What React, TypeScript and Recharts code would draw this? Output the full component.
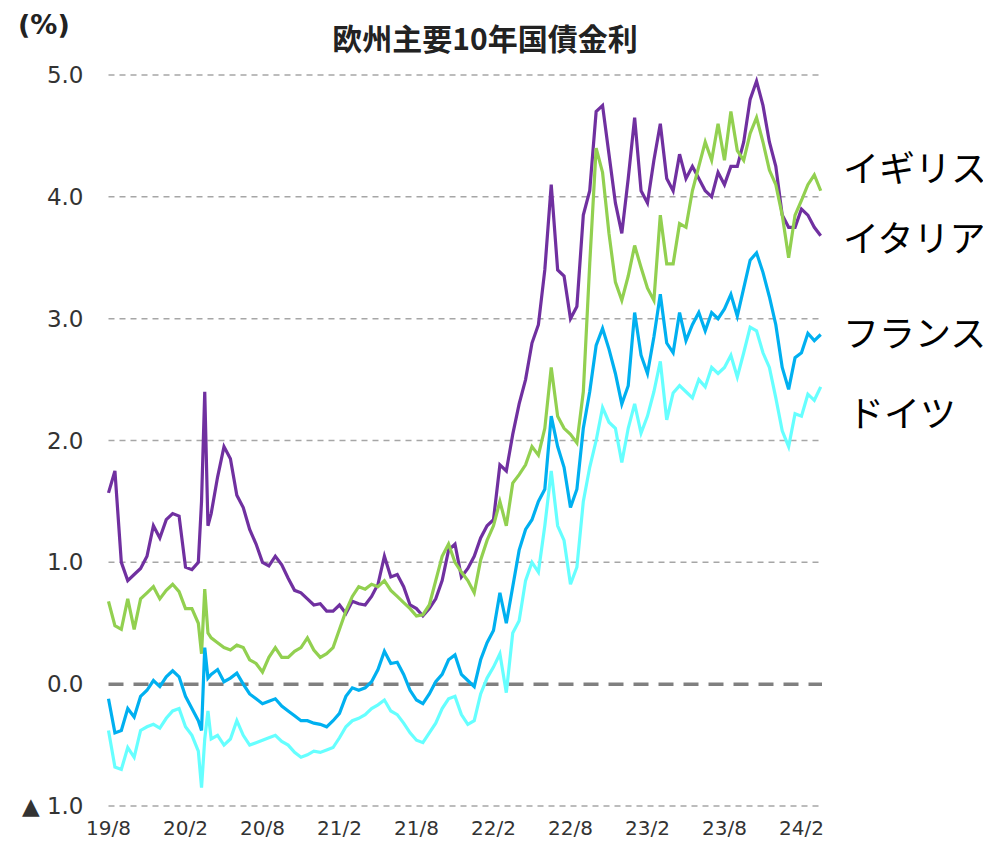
import React from "react";
import { LineChart, Line, XAxis, YAxis, ReferenceLine } from "recharts";

// x positions in months since 2019/8
const months = [
  0, 0.5, 1, 1.5, 2, 2.5, 3, 3.5, 4, 4.5, 5, 5.5,
  6, 6.5, 7, 7.25, 7.5, 7.75, 8, 8.5, 9, 9.5, 10, 10.5, 11, 11.5,
  12, 12.5, 13, 13.5, 14, 14.5, 15, 15.5, 16, 16.5, 17, 17.5,
  18, 18.5, 19, 19.5, 20, 20.5, 21, 21.5, 22, 22.5, 23, 23.5,
  24, 24.5, 25, 25.5, 26, 26.5, 27, 27.5, 28, 28.5, 29, 29.5,
  30, 30.5, 31, 31.5, 32, 32.5, 33, 33.5, 34, 34.5, 35, 35.5,
  36, 36.5, 37, 37.5, 38, 38.5, 39, 39.5, 40, 40.5, 41, 41.5,
  42, 42.5, 43, 43.5, 44, 44.5, 45, 45.5, 46, 46.5, 47, 47.5,
  48, 48.5, 49, 49.5, 50, 50.5, 51, 51.5, 52, 52.5, 53, 53.5,
  54, 54.5, 55, 55.5,
];

const italy = [
  1.57, 1.75, 1.0, 0.85, 0.9, 0.95, 1.05, 1.3, 1.2, 1.35, 1.4, 1.38,
  0.96, 0.94, 1.0, 1.5, 2.4, 1.3, 1.4, 1.7, 1.95, 1.85, 1.55, 1.45, 1.27, 1.15,
  1.0, 0.97, 1.05, 0.98, 0.87, 0.77, 0.75, 0.7, 0.65, 0.66, 0.6, 0.6,
  0.65, 0.58, 0.68, 0.66, 0.65, 0.72, 0.82, 1.05, 0.88, 0.9, 0.8, 0.65,
  0.62, 0.56, 0.62, 0.7, 0.85, 1.1, 1.15, 0.88, 0.95, 1.05, 1.2, 1.3,
  1.35, 1.8, 1.75, 2.05, 2.3, 2.5, 2.8, 2.95, 3.4, 4.1, 3.4, 3.35,
  3.0, 3.1, 3.85, 4.05, 4.7, 4.75, 4.35, 3.95, 3.7, 4.15, 4.65, 4.05,
  3.95, 4.3, 4.6, 4.15, 4.05, 4.35, 4.15, 4.25, 4.15, 4.05, 4.0, 4.2,
  4.1, 4.25, 4.25, 4.45, 4.8, 4.95, 4.75, 4.45, 4.25, 3.85, 3.75, 3.75,
  3.9, 3.85, 3.75, 3.68,
];

const uk = [
  0.68, 0.48, 0.45, 0.7, 0.45, 0.7, 0.75, 0.8, 0.7, 0.77, 0.82, 0.76,
  0.62, 0.62, 0.5, 0.25, 0.78, 0.42, 0.38, 0.34, 0.3, 0.28, 0.32, 0.3, 0.2, 0.17,
  0.1, 0.22, 0.3, 0.22, 0.22, 0.27, 0.3, 0.38, 0.28, 0.22, 0.25, 0.3,
  0.45, 0.6, 0.72, 0.8, 0.78, 0.82, 0.8, 0.85, 0.77, 0.72, 0.67, 0.62,
  0.56, 0.57, 0.65, 0.85, 1.05, 1.15, 1.0, 0.92, 0.85, 0.75, 1.02, 1.18,
  1.3, 1.5, 1.3, 1.65, 1.72, 1.8, 1.95, 1.88, 2.1, 2.6, 2.2, 2.1,
  2.05, 1.98, 2.4, 3.45, 4.4, 4.2, 3.7, 3.3, 3.15, 3.35, 3.6, 3.42,
  3.25, 3.15, 3.85, 3.45, 3.45, 3.78, 3.75, 4.05, 4.25, 4.45, 4.3, 4.6,
  4.3, 4.7, 4.38, 4.3, 4.52, 4.65, 4.45, 4.22, 4.1, 3.85, 3.5, 3.85,
  3.97, 4.1, 4.18, 4.05,
];

const france = [
  -0.12, -0.4, -0.38, -0.2, -0.27, -0.1, -0.05, 0.03, -0.02, 0.06, 0.11, 0.06,
  -0.1, -0.2, -0.3, -0.38, 0.3, 0.05, 0.08, 0.12, 0.02, 0.05, 0.09, 0.0, -0.08, -0.12,
  -0.16, -0.14, -0.12, -0.18, -0.22, -0.26, -0.3, -0.3, -0.32, -0.33, -0.35, -0.3,
  -0.24, -0.1, -0.03, -0.05, -0.03, 0.02, 0.12, 0.27, 0.17, 0.18, 0.08, -0.05,
  -0.13, -0.16, -0.08, 0.02, 0.08, 0.2, 0.24, 0.08, 0.03, -0.02, 0.2, 0.34,
  0.44, 0.75, 0.5, 0.8, 1.1, 1.27, 1.35, 1.5, 1.6, 2.2, 1.95, 1.78,
  1.45, 1.6, 2.1, 2.4, 2.78, 2.92, 2.75, 2.55, 2.3, 2.45, 3.05, 2.7,
  2.55, 2.85, 3.2, 2.8, 2.72, 3.05, 2.82, 2.95, 3.05, 2.9, 3.05, 3.0,
  3.08, 3.2, 3.02, 3.25, 3.48, 3.54, 3.38, 3.18, 2.95, 2.6, 2.42, 2.68,
  2.72, 2.88, 2.82, 2.87,
];

const germany = [
  -0.38, -0.68, -0.7, -0.52, -0.6, -0.38, -0.35, -0.33, -0.36, -0.28, -0.22, -0.2,
  -0.35, -0.42, -0.55, -0.85, -0.45, -0.22, -0.45, -0.42, -0.5, -0.45, -0.3, -0.42, -0.5, -0.48,
  -0.46, -0.44, -0.42, -0.47, -0.5, -0.56, -0.6, -0.58, -0.55, -0.56, -0.54, -0.52,
  -0.44, -0.35, -0.3, -0.28, -0.25, -0.2, -0.17, -0.13, -0.22, -0.25, -0.32, -0.4,
  -0.46, -0.48, -0.4, -0.32, -0.2, -0.12, -0.1, -0.25, -0.33, -0.3, -0.08, 0.05,
  0.14, 0.25, -0.07, 0.42, 0.52, 0.85, 1.0, 0.92, 1.3, 1.75, 1.3, 1.18,
  0.82, 0.96, 1.5, 1.78, 2.0, 2.27, 2.15, 2.1, 1.82, 2.1, 2.3, 2.06,
  2.2, 2.4, 2.65, 2.17, 2.39, 2.45, 2.4, 2.35, 2.5, 2.44, 2.6, 2.55,
  2.6, 2.7, 2.52, 2.72, 2.93, 2.9, 2.72, 2.6, 2.35, 2.08, 1.95, 2.22,
  2.2, 2.38, 2.33, 2.44,
];

const xTicks = [0, 6, 12, 18, 24, 30, 36, 42, 48, 54];
const xTickLabels = ["19/8", "20/2", "20/8", "21/2", "21/8", "22/2", "22/8", "23/2", "23/8", "24/2"];
const yTicks = [-1, 0, 1, 2, 3, 4, 5];

const seriesNames = ["イギリス", "イタリア", "フランス", "ドイツ"];
const title = "欧州主要10年国債金利";
const unit = "(%)";

const data = months.map((m, i) => ({
  m,
  italy: italy[i],
  uk: uk[i],
  france: france[i],
  germany: germany[i],
}));

const tickFont = "'DejaVu Sans', Verdana, sans-serif";
const jpFont = "'Noto Sans CJK JP', 'Noto Sans', sans-serif";

const XTick = (props: any) => {
  const { x, y, payload } = props;
  const idx = xTicks.indexOf(payload.value);
  return (
    <text x={x} y={y} dy={29} textAnchor="middle" fontSize={20} fill="#333" fontFamily={tickFont}>
      {idx >= 0 ? xTickLabels[idx] : ""}
    </text>
  );
};

const YTick = (props: any) => {
  const { x, y, payload } = props;
  const v = payload.value as number;
  const label = v < 0 ? "▲ " + Math.abs(v).toFixed(1) : v.toFixed(1);
  return (
    <text x={x} y={y} dy={8} textAnchor="end" fontSize={23} fill="#333" fontFamily={tickFont}>
      {label}
    </text>
  );
};

const labelStyle: React.CSSProperties = {
  position: "absolute",
  fontFamily: jpFont,
  fontSize: 36,
  color: "#000",
  lineHeight: 1,
  whiteSpace: "nowrap",
};

export default function App() {
  return (
    <div style={{ position: "relative", width: 991, height: 846, margin: -8, background: "#fff" }}>
      <LineChart
        width={991}
        height={846}
        data={data}
        margin={{ top: 75, right: 169, bottom: 0, left: 8.5 }}
      >
        <XAxis
          dataKey="m"
          type="number"
          domain={[0, 55.6]}
          ticks={xTicks}
          interval={0}
          axisLine={false}
          tickLine={false}
          tickSize={0}
          tickMargin={0}
          height={40}
          tick={<XTick />}
        />
        <YAxis
          type="number"
          domain={[-1, 5]}
          ticks={yTicks}
          interval={0}
          axisLine={false}
          tickLine={false}
          tickSize={0}
          tickMargin={25}
          width={100}
          tick={<YTick />}
        />
        {yTicks.filter((t) => t !== 0).map((t) => (
          <ReferenceLine key={t} y={t} stroke="#a6a6a6" strokeWidth={1.5} strokeDasharray="6 5" />
        ))}
        <ReferenceLine y={0} stroke="#808080" strokeWidth={3.5} strokeDasharray="15 10" />
        <Line type="linear" dataKey="italy" stroke="#7030a0" strokeWidth={3.2} dot={false} isAnimationActive={false} />
        <Line type="linear" dataKey="uk" stroke="#92d050" strokeWidth={3.2} dot={false} isAnimationActive={false} />
        <Line type="linear" dataKey="france" stroke="#00b0f0" strokeWidth={3.2} dot={false} isAnimationActive={false} />
        <Line type="linear" dataKey="germany" stroke="#66ffff" strokeWidth={3.2} dot={false} isAnimationActive={false} />
      </LineChart>
      <div style={{ position: "absolute", left: 18, top: 9, fontFamily: tickFont, fontWeight: "bold", fontSize: 27, color: "#222" }}>
        {unit}
      </div>
      <div style={{ position: "absolute", left: 0, width: 970, top: 19, textAlign: "center", fontFamily: jpFont, fontWeight: "bold", fontSize: 30, color: "#222", lineHeight: 1.2 }}>
        {title}
      </div>
      <div style={{ ...labelStyle, left: 843, top: 148 }}>{seriesNames[0]}</div>
      <div style={{ ...labelStyle, left: 843, top: 218 }}>{seriesNames[1]}</div>
      <div style={{ ...labelStyle, left: 843, top: 313 }}>{seriesNames[2]}</div>
      <div style={{ ...labelStyle, left: 848, top: 393 }}>{seriesNames[3]}</div>
    </div>
  );
}
